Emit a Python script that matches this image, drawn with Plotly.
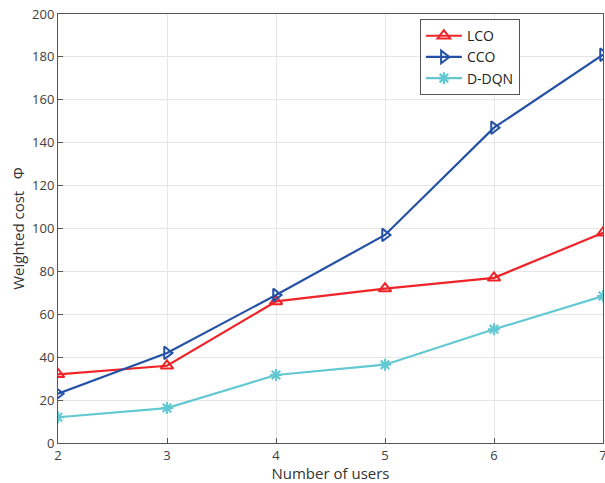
import plotly.graph_objects as go

users = [2, 3, 4, 5, 6, 7]
lco = [32, 36, 66, 72, 77, 98]
cco = [23, 42, 69, 97, 147, 181]
ddqn = [12, 16.3, 31.7, 36.5, 53, 68.5]

fig = go.Figure()
fig.add_trace(go.Scatter(x=users, y=lco, name="LCO", mode="lines+markers",
                         line=dict(color="#EE2428", width=2.2),
                         marker=dict(symbol="triangle-up-open", size=11, color="#EE2428",
                                     line=dict(width=2, color="#EE2428"))))
fig.add_trace(go.Scatter(x=users, y=cco, name="CCO", mode="lines+markers",
                         line=dict(color="#2451A6", width=2.2),
                         marker=dict(symbol="triangle-right-open", size=11, color="#2451A6",
                                     line=dict(width=2, color="#2451A6"))))
fig.add_trace(go.Scatter(x=users, y=ddqn, name="D-DQN", mode="lines+markers",
                         line=dict(color="#62C8D2", width=2.2),
                         marker=dict(symbol="asterisk-open", size=10, color="#62C8D2",
                                     line=dict(width=2.2, color="#62C8D2"))))

font_family = "Open Sans, Liberation Sans, sans-serif"
axis_common = dict(showline=True, linecolor="#555555", linewidth=1, mirror=True,
                   showgrid=True, gridcolor="#E6E6E6", gridwidth=1,
                   ticks="inside", ticklen=5, tickcolor="#555555",
                   zeroline=False, ticklabeloverflow="allow",
                   tickfont=dict(size=13, color="#404040", family=font_family))

fig.update_xaxes(range=[2, 7], tickvals=users, title=dict(text="Number of users",
                 font=dict(size=15, color="#333333", family=font_family), standoff=8),
                 **axis_common)
fig.update_yaxes(range=[0, 200], dtick=20, title=dict(text="Weighted cost   Φ",
                 font=dict(size=15, color="#333333", family=font_family), standoff=3),
                 **axis_common)

fig.update_layout(
    width=605, height=483,
    margin=dict(l=58, r=2, t=14, b=40, autoexpand=False),
    plot_bgcolor="white", paper_bgcolor="white",
    font=dict(family=font_family),
    legend=dict(x=0.664, y=0.988, xanchor="left", yanchor="top",
                bgcolor="white", bordercolor="#555555", borderwidth=1,
                font=dict(size=14, color="#222222", family=font_family),
                tracegroupgap=0, itemwidth=36),
    showlegend=True,
)

fig.write_html("out.html", config={"displayModeBar": False},
               post_script="document.body.style.margin='0';document.body.style.overflow='hidden';")
